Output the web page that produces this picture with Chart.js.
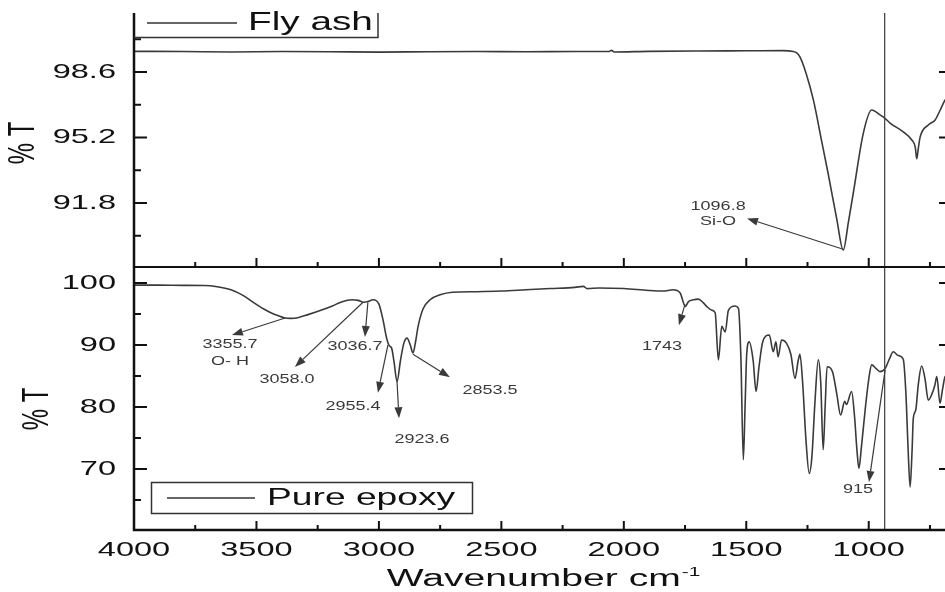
<!DOCTYPE html>
<html lang="en">
<head>
<meta charset="UTF-8">
<title>FTIR - Fly ash / Pure epoxy</title>
<script src="https://cdn.jsdelivr.net/npm/chart.js"></script>
<style>
  html, body { margin: 0; padding: 0; background: #fff; overflow: hidden; }
  canvas { display: block; }
</style>
</head>
<body>
<canvas id="chart" width="960" height="592"></canvas>
<script>
// ---- spectra (wavenumber cm-1, %T) ----
const flyAshWn = [4000, 3800, 3600, 3400, 3200, 3000, 2800, 2600, 2400, 2200, 2060, 2050, 2040, 1900, 1700, 1500,
  1350, 1308, 1295, 1281, 1255, 1226, 1192, 1165, 1131, 1104, 1083, 1063, 1022, 988, 954, 935, 913, 859, 824,
  810, 804, 798, 790, 757, 729, 709, 688, 660];
const flyAshT = [99.67, 99.66, 99.64, 99.66, 99.65, 99.63, 99.65, 99.66, 99.65, 99.66, 99.66, 99.72, 99.64, 99.67, 99.69, 99.70,
  99.71, 99.66, 99.6, 99.38, 98.5, 97.15, 95.0, 93.28, 91.0, 89.36, 90.81, 92.32, 95.43, 96.63, 96.37, 96.21, 95.95, 95.49, 95.07,
  94.7, 94.1, 94.6, 95.23, 95.85, 96.11, 96.6, 97.15, 97.5];

const epoxyWn = [4000, 3900, 3800, 3714, 3660, 3604, 3555, 3510, 3470, 3441, 3410, 3388, 3360, 3331, 3290, 3237, 3190, 3155,
  3110, 3085, 3062, 3045, 3024, 3000, 2983, 2968, 2958, 2948, 2938, 2926, 2912, 2898, 2885, 2872, 2861, 2850, 2840, 2820,
  2791, 2750, 2700, 2600, 2500, 2400, 2300, 2200, 2165, 2150, 2100, 2000, 1900, 1840, 1800, 1770, 1749, 1736, 1715, 1696,
  1675, 1661, 1640, 1627, 1614, 1600, 1586, 1573, 1546, 1532, 1522, 1512, 1505, 1498, 1488, 1472, 1460, 1448, 1433, 1406,
  1390, 1379, 1370, 1356, 1336, 1318, 1301, 1288, 1281, 1270, 1256, 1243, 1232, 1220, 1206, 1196, 1186, 1178, 1170, 1148,
  1130, 1115, 1098, 1091, 1070, 1058, 1048, 1040, 1030, 1012, 998, 988, 970, 954, 933, 915, 900, 879, 859, 848, 840, 831,
  823, 818, 808, 798, 784, 770, 757, 743, 730, 722, 709, 698, 688, 670, 660];
const epoxyT = [99.65, 99.65, 99.62, 99.6, 99.4, 98.9, 98.0, 96.8, 95.8, 95.2, 94.7, 94.4, 94.3, 94.4, 94.9, 95.6, 96.3, 96.9,
  97.3, 97.2, 96.9, 97.0, 97.3, 96.6, 94.0, 91.0, 89.9, 89.5, 87.2, 84.1, 87.5, 90.3, 91.1, 90.0, 88.7, 90.6, 93.0, 95.8,
  97.3, 98.1, 98.5, 98.6, 98.7, 98.9, 99.1, 99.3, 99.45, 99.1, 99.2, 99.1, 98.8, 98.7, 98.9, 98.4, 96.2, 97.0, 97.3, 97.4,
  96.8, 96.2, 95.6, 95.2, 87.6, 93.0, 92.1, 95.6, 96.3, 95.9, 88.0, 71.5, 80.0, 88.7, 90.5, 87.5, 82.5, 86.5, 90.5, 91.6,
  88.9, 90.5, 88.1, 90.8, 90.3, 88.5, 84.6, 87.5, 88.5, 84.0, 74.5, 69.3, 72.0, 80.5, 87.6, 84.0, 73.1, 80.0, 86.5, 85.7,
  82.0, 78.7, 80.9, 80.4, 82.5, 78.5, 73.0, 70.1, 73.5, 80.5, 85.0, 86.8, 86.2, 85.7, 86.2, 87.8, 88.9, 88.3, 87.7, 82.0, 74.0, 67.1,
  73.0, 78.2, 79.5, 83.5, 86.6, 84.5, 81.1, 82.0, 83.5, 84.9, 80.6, 83.0, 84.9, 85.2, 84.8];

// ---- axes ----
const xMajorTicks = [4000, 3500, 3000, 2500, 2000, 1500, 1000];
const xMinorTicks = [3750, 3250, 2750, 2250, 1750, 1250, 750];
const topMajorTicks = [91.8, 95.2, 98.6];
const topMinorTicks = [90.1, 93.5, 96.9, 100.3];
const botMajorTicks = [70, 80, 90, 100];
const botMinorTicks = [65, 75, 85, 95];
const markerWn = 935;

// peak labels: label centre, arrow start on the curve, arrow tip (all in wavenumber / %T)
const flyAshNotes = [
  { text: ['1096.8', 'Si-O'], at: [1615, 91.6], from: [1104, 89.4], to: [1497, 91.0] }
];
const epoxyNotes = [
  { text: ['3355.7', 'O- H'], at: [3608, 90.0], from: [3383, 94.35], to: [3600, 91.6] },
  { text: ['3058.0'], at: [3375, 84.35], from: [3065, 96.9], to: [3343, 86.45] },
  { text: ['3036.7'], at: [3098, 89.7], from: [3045, 96.9], to: [3057, 91.3] },
  { text: ['2955.4'], at: [3106, 80.0], from: [2963, 90.0], to: [3004, 82.3] },
  { text: ['2923.6'], at: [2824, 74.8], from: [2926, 84.1], to: [2918, 78.2] },
  { text: ['2853.5'], at: [2546, 82.7], from: [2861, 88.5], to: [2710, 84.8] },
  { text: ['1743'], at: [1844, 89.8], from: [1750, 96.6], to: [1775, 93.2] },
  { text: ['915'], at: [1044, 66.6], from: [933, 86.0], to: [999, 67.9] }
];

const FONT = '"Liberation Sans", Arial, sans-serif';
const STRETCH = 1.55;   // the original figure is stretched sideways
const INK = '#3a3a3a';

function wideText(ctx, str, x, y, size, align, stretch, rotate) {
  ctx.save();
  ctx.translate(x, y);
  ctx.scale(stretch, 1);
  if (rotate) ctx.rotate(-Math.PI / 2);
  ctx.font = size + 'px ' + FONT;
  ctx.textAlign = align;
  ctx.textBaseline = 'middle';
  ctx.fillText(str, 0, 0);
  ctx.restore();
}

function arrow(ctx, x1, y1, x2, y2) {
  const a = Math.atan2(y2 - y1, x2 - x1);
  const len = 11, half = 4;
  const bx = x2 - len * Math.cos(a), by = y2 - len * Math.sin(a);
  ctx.beginPath();
  ctx.moveTo(x1, y1);
  ctx.lineTo(bx, by);
  ctx.stroke();
  ctx.beginPath();
  ctx.moveTo(x2, y2);
  ctx.lineTo(bx + half * Math.sin(a), by - half * Math.cos(a));
  ctx.lineTo(bx - half * Math.sin(a), by + half * Math.cos(a));
  ctx.closePath();
  ctx.fill();
}

const framePlugin = {
  id: 'frame',
  afterDatasetsDraw(chart) {
    const ctx = chart.ctx;
    const x = chart.scales.x, yt = chart.scales.yTop, yb = chart.scales.yBot;
    const L = x.left, R = x.right, T = yt.top, M = yt.bottom, B = yb.bottom;

    ctx.save();
    // marker line
    ctx.strokeStyle = '#4a4a4a';
    ctx.lineWidth = 1.3;
    const mx = x.getPixelForValue(markerWn);
    ctx.beginPath(); ctx.moveTo(mx, T); ctx.lineTo(mx, B); ctx.stroke();

    // frame
    ctx.strokeStyle = '#111';
    ctx.lineWidth = 2.5;
    ctx.beginPath();
    ctx.moveTo(L, T); ctx.lineTo(L, B); ctx.lineTo(R, B); ctx.lineTo(R, T);
    ctx.stroke();
    ctx.lineWidth = 2;
    ctx.beginPath(); ctx.moveTo(L, M); ctx.lineTo(R, M); ctx.stroke();

    // inward ticks
    ctx.lineWidth = 2;
    ctx.beginPath();
    [[xMajorTicks, 9], [xMinorTicks, 5]].forEach(([vals, len]) => {
      vals.forEach(v => {
        const px = x.getPixelForValue(v);
        ctx.moveTo(px, M); ctx.lineTo(px, M - len);
        ctx.moveTo(px, B); ctx.lineTo(px, B - len);
      });
    });
    [[yt, topMajorTicks, 13], [yt, topMinorTicks, 7], [yb, botMajorTicks, 13], [yb, botMinorTicks, 7]]
      .forEach(([sc, vals, len]) => {
        vals.forEach(v => {
          const py = sc.getPixelForValue(v);
          ctx.moveTo(L, py); ctx.lineTo(L + len, py);
          ctx.moveTo(R, py); ctx.lineTo(R - len, py);
        });
      });
    ctx.stroke();

    // tick labels
    ctx.fillStyle = '#111';
    xMajorTicks.forEach(v => wideText(ctx, String(v), x.getPixelForValue(v), 550, 21, 'center', STRETCH));
    topMajorTicks.forEach(v => wideText(ctx, v.toFixed(1), 116, yt.getPixelForValue(v), 21, 'right', STRETCH));
    botMajorTicks.forEach(v => wideText(ctx, String(v), 116, yb.getPixelForValue(v), 21, 'right', STRETCH));

    // axis titles
    wideText(ctx, '% T', 24, 143, 24, 'center', STRETCH, true);
    wideText(ctx, '% T', 38, 409, 24, 'center', STRETCH, true);
    ctx.font = '23px ' + FONT;
    const w1 = ctx.measureText('Wavenumber cm').width * 1.7;
    ctx.font = '13px ' + FONT;
    const w2 = ctx.measureText('-1').width * 1.6;
    const tx = (L + R) / 2 - (w1 + w2) / 2;
    wideText(ctx, 'Wavenumber cm', tx, 580, 23, 'left', 1.7);
    wideText(ctx, '-1', tx + w1 + 1, 572, 13, 'left', 1.6);

    // legends
    const [fly, epo] = chart.data.datasets;
    ctx.strokeStyle = '#333';
    ctx.lineWidth = 1.5;
    ctx.beginPath();
    ctx.moveTo(L, 37.5); ctx.lineTo(378, 37.5); ctx.lineTo(378, T);
    ctx.moveTo(147, 23); ctx.lineTo(237, 23);
    ctx.stroke();
    wideText(ctx, fly.label, 248, 23, 25, 'left', STRETCH);
    ctx.strokeRect(151.5, 482.5, 321, 31);
    ctx.beginPath(); ctx.moveTo(167, 498); ctx.lineTo(255, 498); ctx.stroke();
    wideText(ctx, epo.label, 267, 498, 24, 'left', STRETCH);

    // peak annotations
    ctx.strokeStyle = INK;
    ctx.fillStyle = INK;
    ctx.lineWidth = 1.2;
    [[yt, flyAshNotes, 15], [yb, epoxyNotes, 17]].forEach(([sc, notes, gap]) => {
      notes.forEach(n => {
        arrow(ctx, x.getPixelForValue(n.from[0]), sc.getPixelForValue(n.from[1]),
                   x.getPixelForValue(n.to[0]), sc.getPixelForValue(n.to[1]));
        n.text.forEach((s, i) => wideText(ctx, s, x.getPixelForValue(n.at[0]),
          sc.getPixelForValue(n.at[1]) + i * gap, 12, 'center', 1.5));
      });
    });
    ctx.restore();
  }
};

const toPoints = (wn, t) => wn.map((w, i) => ({ x: w, y: t[i] }));

const hiddenAxis = {
  grid: { display: false },
  border: { display: false },
  ticks: { display: false }
};

new Chart(document.getElementById('chart').getContext('2d'), {
  type: 'line',
  data: {
    datasets: [
      {
        label: 'Fly ash',
        data: toPoints(flyAshWn, flyAshT),
        yAxisID: 'yTop',
        borderColor: INK,
        borderWidth: 1.6,
        pointRadius: 0,
        cubicInterpolationMode: 'monotone'
      },
      {
        label: 'Pure epoxy',
        data: toPoints(epoxyWn, epoxyT),
        yAxisID: 'yBot',
        borderColor: INK,
        borderWidth: 1.6,
        pointRadius: 0,
        cubicInterpolationMode: 'monotone'
      }
    ]
  },
  options: {
    responsive: false,
    animation: false,
    layout: { padding: { top: 13, right: 8, left: 0, bottom: 0 } },
    plugins: { legend: { display: false }, tooltip: { enabled: false } },
    scales: {
      x: {
        ...hiddenAxis,
        type: 'linear',
        reverse: true,
        min: 660,
        max: 4000,
        afterFit: s => { s.height = 62; }
      },
      yTop: {
        ...hiddenAxis,
        type: 'linear',
        position: 'left',
        stack: 'panels',
        stackWeight: 254,
        weight: 2,
        min: 88.48,
        max: 101.66,
        afterFit: s => { s.width = 134; }
      },
      yBot: {
        ...hiddenAxis,
        type: 'linear',
        position: 'left',
        stack: 'panels',
        stackWeight: 263,
        weight: 1,
        min: 60.16,
        max: 102.58,
        afterFit: s => { s.width = 134; }
      }
    }
  },
  plugins: [framePlugin]
});
</script>
</body>
</html>
